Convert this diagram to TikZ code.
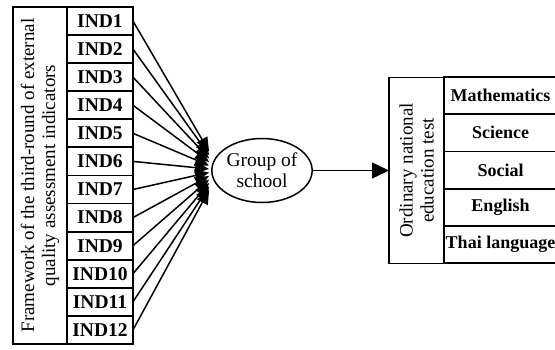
\documentclass[tikz,border=0pt]{standalone}
\usepackage{fontspec}
\setmainfont{Liberation Serif}
\usetikzlibrary{shapes.geometric,calc,positioning,arrows.meta}

\tikzset{
  ind/.style={draw,line width=1.8pt,outer sep=0pt,inner sep=0pt,minimum width=66pt,minimum height=28.08pt,font=\fontsize{19.5}{21}\selectfont\bfseries},
  subj/.style={draw,line width=1.8pt,outer sep=0pt,inner sep=0pt,minimum width=113pt,minimum height=37.2pt,font=\fontsize{18}{20}\selectfont\bfseries},
  side/.style={draw,line width=1.8pt,outer sep=0pt,inner sep=0pt,rotate=90,align=center,font=\fontsize{19}{21}\selectfont},
  link/.style={line width=1.5pt,-{Triangle[length=14pt,width=12pt]}},
  bigarr/.style={line width=1.5pt,-{Triangle[length=17pt,width=16pt]}},
}

\begin{document}
\begin{tikzpicture}[x=1pt,y=1pt]
\useasboundingbox (0,0) rectangle (555,349);
% indicators
\node (fw) [side,minimum width=337pt,minimum height=54pt] at (40,173.5) {Framework of the third-round of external\\quality assessment indicators};
\node (i1) [ind] at (100,328) {IND1};
\node (i2) [ind,below=0pt of i1] {IND2};
\node (i3) [ind,below=0pt of i2] {IND3};
\node (i4) [ind,below=0pt of i3] {IND4};
\node (i5) [ind,below=0pt of i4] {IND5};
\node (i6) [ind,below=0pt of i5] {IND6};
\node (i7) [ind,below=0pt of i6] {IND7};
\node (i8) [ind,below=0pt of i7] {IND8};
\node (i9) [ind,below=0pt of i8] {IND9};
\node (i10) [ind,below=0pt of i9] {IND10};
\node (i11) [ind,below=0pt of i10] {IND11};
\node (i12) [ind,below=0pt of i11] {IND12};
% school group
\node (grp) [ellipse,draw,line width=1.5pt,minimum width=81pt,minimum height=64pt,inner sep=0pt,align=center,font=\fontsize{19.5}{21}\selectfont] at (262,178.5) {Group of\\school};
\draw [link] (i1.east) -- ($(grp.west)+(-2,19)$);
\draw [link] (i2.east) -- ($(grp.west)+(-2,15.5)$);
\draw [link] (i3.east) -- ($(grp.west)+(-2,12)$);
\draw [link] (i4.east) -- ($(grp.west)+(-2,8.5)$);
\draw [link] (i5.east) -- ($(grp.west)+(-2,5)$);
\draw [link] (i6.east) -- ($(grp.west)+(-2,1.5)$);
\draw [link] (i7.east) -- ($(grp.west)+(-2,-2)$);
\draw [link] (i8.east) -- ($(grp.west)+(-2,-5.5)$);
\draw [link] (i9.east) -- ($(grp.west)+(-2,-9)$);
\draw [link] (i10.east) -- ($(grp.west)+(-2,-12.5)$);
\draw [link] (i11.east) -- ($(grp.west)+(-2,-16)$);
\draw [link] (i12.east) -- ($(grp.west)+(-2,-19.5)$);
% test subjects
\node (ont) [side,minimum width=186pt,minimum height=55pt] at (416.5,178.5) {Ordinary national\\education test};
\node (s1) [subj] at (500.5,253.4) {Mathematics};
\node (s2) [subj,below=0pt of s1] {Science};
\node (s3) [subj,below=0pt of s2] {Social};
\node (s4) [subj,below=0pt of s3] {English};
\node (s5) [subj,below=0pt of s4] {Thai language};
\draw [bigarr] (grp.east) -- (ont.north);
\end{tikzpicture}
\end{document}
